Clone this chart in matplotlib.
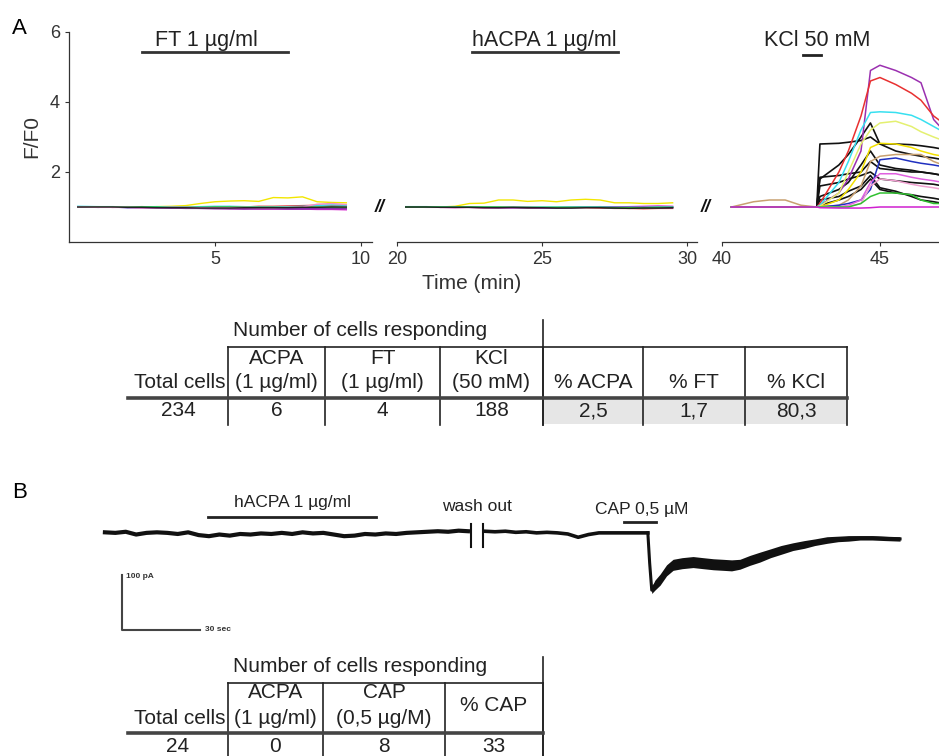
import matplotlib
matplotlib.use("Agg")
import matplotlib.pyplot as plt
from matplotlib.patches import Rectangle

plt.rcParams["font.family"] = ["Liberation Sans", "DejaVu Sans"]

W, H = 939, 756

# ---- panel A : calcium imaging traces (F/F0) ----
t1 = [0.3, 1.0, 1.5, 2.0, 2.5, 3.0, 3.5, 4.0, 4.5, 5.0, 5.5, 6.0, 6.5, 7.0, 7.5, 8.0, 8.5, 9.0, 9.5]
seg1 = {
    "#f2e600": [1.0, 1.0, 1.0, 1.01, 1.0, 1.01, 1.02, 1.04, 1.1, 1.15, 1.17, 1.18, 1.16, 1.27, 1.26, 1.29, 1.15, 1.13, 1.12],
    "#e83838": [1.0, 1.0, 0.99, 1.0, 1.01, 1.0, 1.0, 0.99, 1.0, 1.0, 1.01, 1.0, 1.02, 1.02, 1.03, 1.04, 1.05, 1.04, 1.05],
    "#2828c0": [1.0, 0.99, 1.0, 0.98, 0.99, 0.98, 0.97, 0.98, 0.98, 0.97, 0.96, 0.97, 0.96, 0.96, 0.97, 0.96, 0.96, 0.97, 0.96],
    "#d828d0": [1.0, 1.0, 0.99, 0.99, 0.98, 0.98, 0.98, 0.97, 0.96, 0.96, 0.95, 0.95, 0.94, 0.94, 0.94, 0.94, 0.93, 0.93, 0.92],
    "#8a30a8": [1.0, 1.0, 1.0, 0.99, 0.98, 0.97, 0.97, 0.96, 0.96, 0.95, 0.95, 0.94, 0.95, 0.95, 0.94, 0.94, 0.95, 0.95, 0.95],
    "#38d8e8": [1.02, 1.01, 1.01, 1.0, 1.0, 1.01, 1.0, 1.0, 1.01, 1.02, 1.02, 1.01, 1.0, 1.0, 1.01, 1.02, 1.04, 1.06, 1.05],
    "#30c030": [1.0, 1.0, 1.0, 1.0, 1.0, 1.0, 0.99, 0.99, 0.99, 1.0, 1.0, 1.0, 0.99, 0.99, 0.99, 1.0, 1.0, 1.0, 0.99],
    "#f090c8": [1.0, 0.99, 0.99, 0.99, 0.98, 0.98, 0.99, 0.99, 0.98, 0.98, 0.98, 0.99, 0.98, 0.98, 0.99, 1.0, 1.08, 1.1, 1.07],
    "#222222": [1.0, 1.0, 1.0, 0.99, 0.99, 0.98, 0.98, 0.98, 0.97, 0.97, 0.97, 0.98, 0.98, 0.98, 0.98, 0.99, 0.99, 1.0, 1.0],
}

t2 = [20.3, 21.0, 21.5, 22.0, 22.5, 23.0, 23.5, 24.0, 24.5, 25.0, 25.5, 26.0, 26.5, 27.0, 27.5, 28.0, 28.5, 29.0, 29.5]
seg2 = {
    "#f2e600": [1.0, 1.0, 1.0, 1.02, 1.1, 1.11, 1.2, 1.2, 1.16, 1.18, 1.15, 1.2, 1.22, 1.2, 1.12, 1.12, 1.1, 1.1, 1.12],
    "#e83838": [1.0, 1.0, 0.99, 0.99, 0.99, 0.98, 0.98, 0.98, 0.97, 0.97, 0.98, 0.98, 0.98, 0.97, 0.96, 0.96, 0.95, 0.96, 0.96],
    "#2828c0": [1.0, 1.0, 0.99, 1.0, 0.99, 0.99, 0.99, 0.98, 0.98, 0.98, 0.97, 0.98, 0.99, 0.99, 0.97, 0.97, 0.98, 0.98, 0.98],
    "#d828d0": [1.0, 0.99, 0.99, 0.98, 0.99, 0.98, 0.98, 0.98, 0.99, 0.98, 0.98, 0.99, 1.0, 1.01, 1.0, 1.01, 1.02, 1.03, 1.02],
    "#8a30a8": [1.0, 1.0, 1.0, 1.0, 0.99, 0.99, 0.98, 0.99, 0.99, 0.98, 0.98, 0.99, 0.99, 1.0, 1.0, 1.0, 0.99, 0.99, 1.0],
    "#38d8e8": [1.01, 1.01, 1.0, 1.0, 1.0, 1.0, 0.99, 0.99, 0.99, 1.0, 1.0, 1.0, 1.0, 1.0, 0.99, 0.99, 0.99, 1.0, 1.0],
    "#30c030": [1.0, 1.0, 1.0, 1.0, 1.0, 1.0, 1.0, 0.99, 0.99, 0.99, 0.99, 0.99, 0.99, 0.99, 0.98, 0.98, 0.98, 0.99, 0.99],
    "#222222": [1.0, 1.0, 0.99, 0.99, 0.99, 0.98, 0.98, 0.99, 0.98, 0.98, 0.97, 0.97, 0.98, 0.98, 0.97, 0.96, 0.97, 0.97, 0.98],
}

t3 = [40.3, 41.0, 41.5, 42.0, 42.5, 43.0, 43.1, 43.7, 44.0, 44.4, 44.7, 45.0, 45.5, 46.0, 46.3, 46.7, 47.0]
seg3_colored = {
    "#9b30b0": [1, 1, 1, 1, 1, 1, 1.05, 1.4, 1.8, 2.6, 4.9, 5.05, 4.9, 4.7, 4.55, 3.5, 3.2],
    "#e83030": [1, 1, 1, 1, 1, 1, 1.1, 2.0, 2.6, 3.6, 4.6, 4.7, 4.5, 4.25, 4.05, 3.6, 3.4],
    "#38e0f0": [1, 1, 1, 1, 1, 1, 1.05, 1.7, 2.3, 3.2, 3.7, 3.72, 3.7, 3.62, 3.5, 3.3, 3.15],
    "#e4f070": [1, 1, 1, 1, 1, 1, 1.02, 1.4, 2.0, 2.8, 3.2, 3.4, 3.45, 3.3, 3.15, 3.0, 2.9],
    "#f2e000": [1, 1, 1, 1, 1, 1, 1.0, 1.2, 1.5, 2.0, 2.7, 2.82, 2.8, 2.7, 2.6, 2.5, 2.45],
    "#c8a070": [1, 1.15, 1.2, 1.2, 1.05, 1.0, 1.0, 1.05, 1.2, 1.6, 2.3, 2.45, 2.5, 2.5, 2.5, 2.3, 2.2],
    "#2030c0": [1, 1, 1, 1, 1, 1, 1, 1.05, 1.1, 1.2, 1.5, 2.35, 2.4, 2.3, 2.25, 2.2, 2.15],
    "#e060e0": [1, 1, 1, 1, 1, 1, 1, 1, 1.05, 1.2, 1.7, 1.95, 1.95, 1.85, 1.8, 1.75, 1.7],
    "#f0a0d0": [1, 1, 1, 1, 1, 1, 1, 1, 1.02, 1.1, 1.6, 1.8, 1.75, 1.65, 1.6, 1.55, 1.5],
    "#30c030": [1, 1, 1, 1, 1, 1, 1, 1, 1.0, 1.1, 1.3, 1.4, 1.4, 1.35, 1.2, 1.1, 1.1],
    "#d020d0": [1, 1, 1, 1, 1, 1, 0.98, 0.97, 0.97, 0.97, 0.98, 1.0, 1.0, 1.0, 1.0, 1.0, 1.0],
}
seg3_black = [
    [1, 1, 1, 1, 1, 1.0, 2.8, 2.82, 2.85, 2.9, 3.0, 2.8, 2.8, 2.78, 2.75, 2.7, 2.65],
    [1, 1, 1, 1, 1, 1, 1.8, 2.2, 2.5, 3.0, 3.4, 2.8, 2.6, 2.5, 2.45, 2.4, 2.35],
    [1, 1, 1, 1, 1, 1, 1.85, 1.9, 1.95, 2.0, 2.3, 2.1, 2.05, 2.0, 2.0, 1.95, 1.9],
    [1, 1, 1, 1, 1, 1, 1.6, 1.7, 1.8, 1.9, 2.0, 1.8, 1.75, 1.7, 1.68, 1.65, 1.6],
    [1, 1, 1, 1, 1, 1, 1.2, 1.3, 1.45, 1.6, 1.9, 1.55, 1.45, 1.3, 1.2, 1.15, 1.1],
    [1, 1, 1, 1, 1, 1, 1.3, 1.5, 1.7, 2.2, 2.6, 2.2, 2.1, 2.05, 2.0, 1.95, 1.9],
    [1, 1, 1, 1, 1, 1, 1.05, 1.2, 1.3, 1.5, 1.8, 1.5, 1.4, 1.35, 1.3, 1.25, 1.2],
]

# drug application bars (min)
ft_bar = (2.5, 7.5)
acpa_bar = (22.6, 27.6)
kcl_bar = (42.56, 43.13)

# ---- panel B : patch-clamp current (pA) vs time (s) ----
b_t1 = [0, 4, 8, 12, 16, 20, 24, 28, 32, 36, 40, 44, 48, 52, 56, 60, 64, 68, 72, 76,
        80, 84, 88, 92, 96, 100, 104, 108, 112, 116, 120, 124, 128, 132, 136, 139.6]
b_i1 = [1, 0, 2, -3, 0, 1, 0, -2, 1, -4, -6, -3, -5, -2, -3, -1, -2, 0, -2, 1,
        -1, 0, -3, -6, -5, -2, -3, -1, -2, 0, 1, 2, 3, 2, 4, 3]
b_t2 = [146, 150, 154, 158, 162, 166, 170, 174, 178, 182, 186, 190, 194, 198, 202, 206, 208.8]
b_i2 = [3, 2, 3, 1, 2, 0, 1, 0, -2, -8, -3, 0, 0, 0, 0, 0, 0]
b_t3 = [208.8, 209.5, 210.3, 211.5, 213.5, 216, 218.5, 222, 226.2, 230, 234, 237.7, 241, 244.2,
        248, 251.9, 256, 260, 264.6, 269, 273, 277.7, 282, 286, 290.4, 295, 300, 305.8]
b_i3 = [0, -55, -104, -95, -85, -68, -58, -55, -53, -55, -57, -58, -59, -57,
        -50, -44, -37, -31, -25, -21, -17, -13, -11, -10, -9, -9, -10, -11]
b_noise3 = [0, 4, 6, 9, 10, 10, 10, 10, 10, 10, 10, 10, 10, 9,
            9, 9, 8, 8, 7, 7, 6, 6, 5, 5, 4, 4, 4, 4]

hacpa_b = (39.6, 104.2)
cap_b = (199.6, 212.0)
washout_t = (140.8, 145.4)

# ---- tables ----
tabA_head1 = ["ACPA", "FT", "KCl", "", "", ""]
tabA_head2 = ["(1 µg/ml)", "(1 µg/ml)", "(50 mM)", "% ACPA", "% FT", "% KCl"]
tabA_total = "234"
tabA_row = ["6", "4", "188", "2,5", "1,7", "80,3"]

tabB_head1 = ["ACPA", "CAP"]
tabB_head2 = ["(1 µg/ml)", "(0,5 µg/M)"]
tabB_total = "24"
tabB_row = ["0", "8", "33"]


def rect(x0, y0, x1, y1):
    return [x0 / W, 1 - y1 / H, (x1 - x0) / W, (y1 - y0) / H]


fig = plt.figure(figsize=(W / 100, H / 100), dpi=100)
fig.patch.set_facecolor("white")

tick_kw = dict(labelsize=13, length=3, width=0.8, colors="#333333")

ax1 = fig.add_axes(rect(69, 32, 372, 242))
ax2 = fig.add_axes(rect(397, 32, 697, 242))
ax3 = fig.add_axes(rect(722, 32, 939, 242))

for c, v in seg1.items():
    ax1.plot(t1, v, color=c, lw=1.0)
for c, v in seg2.items():
    ax2.plot(t2, v, color=c, lw=1.0)
for v in seg3_black:
    ax3.plot(t3, v, color="#111111", lw=1.2)
for c, v in seg3_colored.items():
    ax3.plot(t3, v, color=c, lw=1.1)

ax1.set_xlim(0, 10.38)
ax2.set_xlim(20, 30.34)
ax3.set_xlim(40, 46.87)
for ax in (ax1, ax2, ax3):
    ax.set_ylim(0, 6)
    for s in ("top", "right"):
        ax.spines[s].set_visible(False)
    ax.spines["bottom"].set_color("#333333")
    ax.spines["bottom"].set_linewidth(0.9)
    ax.tick_params(**tick_kw)
    ax.patch.set_alpha(0)
ax1.spines["left"].set_color("#333333")
ax1.spines["left"].set_linewidth(0.9)
ax1.set_yticks([2, 4, 6])
ax1.set_xticks([5, 10])
ax2.set_xticks([20, 25, 30])
ax3.set_xticks([40, 45])
for ax in (ax2, ax3):
    ax.spines["left"].set_visible(False)
    ax.set_yticks([])
ax1.set_ylabel("F/F0", fontsize=15, color="#333333", labelpad=6)

ax1.plot(ft_bar, [5.43, 5.43], color="#333333", lw=2, clip_on=False)
ax1.text(sum(ft_bar) / 2 - 0.3, 5.75, "FT 1 µg/ml", ha="center", va="center", fontsize=15.5, color="#222222")
ax2.plot(acpa_bar, [5.43, 5.43], color="#333333", lw=2, clip_on=False)
ax2.text(25.07, 5.75, "hACPA 1 µg/ml", ha="center", va="center", fontsize=15.5, color="#222222")
ax3.plot(kcl_bar, [5.34, 5.34], color="#222222", lw=2, clip_on=False)
ax3.text(43.0, 5.75, "KCl 50 mM", ha="center", va="center", fontsize=15.5, color="#222222")

fig.text(472 / W, 1 - 283 / H, "Time (min)", ha="center", va="center", fontsize=15, color="#333333")
for bx in (380, 706):
    fig.text(bx / W, 1 - 207 / H, "//", ha="center", va="center", fontsize=13,
             fontweight="bold", style="italic", color="#111111")

fig.text(12 / W, 1 - 28 / H, "A", fontsize=16, va="center", ha="left")
fig.text(12 / W, 1 - 492 / H, "B", fontsize=16, va="center", ha="left")

# panel B trace
axb = fig.add_axes(rect(100, 480, 905, 640))
axb.set_xlim(-1.9, 307.7)
axb.set_ylim(-194.5, 96)
axb.axis("off")
axb.plot(b_t1, b_i1, color="#111111", lw=3.0)
axb.plot(b_t2, b_i2, color="#111111", lw=2.6)
lo = [i - w for i, w in zip(b_i3, b_noise3)]
hi = [i + w for i, w in zip(b_i3, b_noise3)]
axb.fill_between(b_t3, lo, hi, color="#111111", lw=0)
axb.plot(b_t3, b_i3, color="#111111", lw=2.2)
for wt in washout_t:
    axb.plot([wt, wt], [16, -25], color="#111111", lw=1.5)
axb.plot(hacpa_b, [29, 29], color="#222222", lw=2)
axb.text(72, 56, "hACPA 1 µg/ml", ha="center", va="center", fontsize=12.5, color="#222222")
axb.text(143, 47, "wash out", ha="center", va="center", fontsize=12.5, color="#222222")
axb.plot(cap_b, [20, 20], color="#222222", lw=2)
axb.text(206.5, 42, "CAP 0,5 µM", ha="center", va="center", fontsize=12.5, color="#222222")
# scale bars: 100 pA, 30 sec
axb.plot([6.5, 6.5, 36.5], [-76, -176, -176], color="#444444", lw=1.5)
axb.text(8.0, -79, "100 pA", fontsize=6, va="center", ha="left", color="#333333", fontweight="bold")
axb.text(38.5, -176, "30 sec", fontsize=6, va="center", ha="left", color="#333333", fontweight="bold")

# tables drawn on an overlay in pixel space
ov = fig.add_axes([0, 0, 1, 1])
ov.set_xlim(0, W)
ov.set_ylim(H, 0)
ov.axis("off")
ov.patch.set_alpha(0)
fs_t = 15
lc = "#222222"


def draw_table(y_title, y_top, y_h1, y_h2, y_dbl, y_row, y_bot, edges, head1, head2,
               total, row, shade=None, center_last=None):
    x_right = edges[-1]
    ov.text(360, y_title, "Number of cells responding", ha="center", va="center", fontsize=fs_t, color=lc)
    ov.plot([228, x_right], [y_top, y_top], color=lc, lw=1.2)
    ov.plot([543, 543], [y_title - 10, y_bot], color=lc, lw=1.2)
    for e in edges:
        ov.plot([e, e], [y_top, y_bot], color=lc, lw=1.2)
    if shade is not None:
        ov.add_patch(Rectangle((shade[0], y_dbl + 2), shade[1] - shade[0], y_bot - y_dbl - 3,
                               facecolor="#e6e6e6", edgecolor="none", zorder=0))
    ov.plot([128, x_right], [y_dbl, y_dbl], color="#444444", lw=2.6)
    ov.text(226, y_h2, "Total cells", ha="right", va="center", fontsize=fs_t, color=lc)
    ov.text(178, y_row, total, ha="center", va="center", fontsize=fs_t, color=lc)
    for i in range(len(edges) - 1):
        xc = (edges[i] + edges[i + 1]) / 2
        if i < len(head1):
            ov.text(xc, y_h1, head1[i], ha="center", va="center", fontsize=fs_t, color=lc)
            ov.text(xc, y_h2, head2[i], ha="center", va="center", fontsize=fs_t, color=lc)
        elif center_last is not None:
            ov.text(xc, (y_h1 + y_h2) / 2, center_last, ha="center", va="center", fontsize=fs_t, color=lc)
        ov.text(xc, y_row, row[i], ha="center", va="center", fontsize=fs_t, color=lc)


draw_table(330, 347, 358, 383, 398, 411, 425, [228, 325, 440, 543, 643, 745, 847],
           tabA_head1, tabA_head2, tabA_total, tabA_row, shade=(543, 847))
draw_table(667, 683, 693, 718, 733, 746, 756, [228, 323, 445, 543],
           tabB_head1, tabB_head2, tabB_total, tabB_row, center_last="% CAP")

fig.savefig("out.png", dpi=100)
